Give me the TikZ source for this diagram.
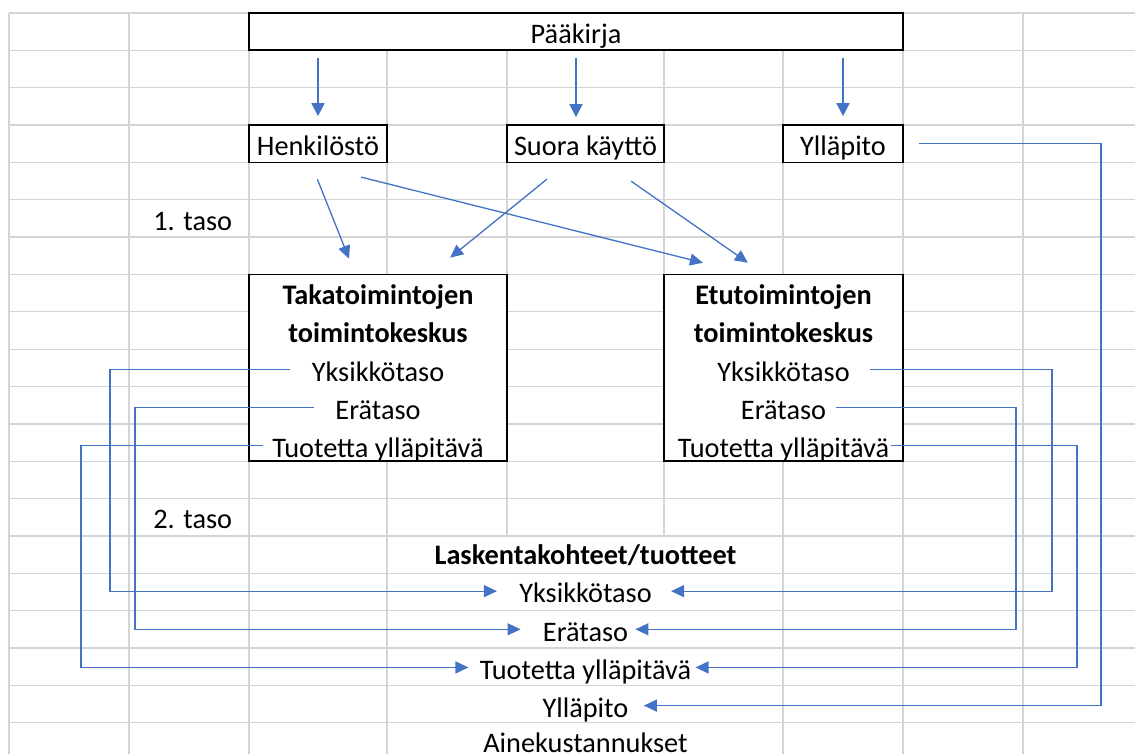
\documentclass[tikz,border=0pt]{standalone}
\usepackage{fontspec}
\setmainfont{Carlito}
\usetikzlibrary{arrows.meta,positioning,calc}
\definecolor{gridgray}{RGB}{212,212,212}
\definecolor{linkblue}{RGB}{68,114,196}

\begin{document}
\begin{tikzpicture}[
  x=0.5pt,y=-0.5pt,
  font=\fontsize{14.15pt}{17pt}\selectfont,
  gridline/.style={draw=gridgray,line width=0.65pt},
  box/.style={draw,line width=0.9pt,fill=white,rectangle,inner sep=0pt,
    minimum height=18.675pt,text height=11.7pt,text depth=0pt},
  cell/.style={inner sep=0pt,minimum height=18.675pt,text height=11.7pt,text depth=0pt},
  link/.style={draw=linkblue,line width=0.8pt,-{Triangle[length=6.5pt,width=6.5pt]}},
  wire/.style={draw=linkblue,line width=0.65pt,-{Triangle[length=6.5pt,width=6pt]}}
  ]

  % Tausta ja ruudukko
  \useasboundingbox[fill=white] (0,0) rectangle (1135,754);
  \foreach \r in {0,...,19}
    \draw[gridline] (9,13+37.35*\r) -- (1135,13+37.35*\r);
  \foreach \c in {9,129,249,387,783,903,1023}
    \draw[gridline] (\c,13) -- (\c,754);
  \foreach \c in {507,664}
    \draw[gridline] (\c,13) -- (\c,535.9);

  % Paakirja ja ylin taso
  \node[box,minimum width=327pt] (pk) at (576,31.68) {Pääkirja};
  \node[box,minimum width=69pt] (hen) at (318,143.73) {Henkilöstö};
  \node[box,minimum width=78.5pt] (sk) at (585.5,143.73) {Suora käyttö};
  \node[box,minimum width=60pt] (yp) at (843,143.73) {Ylläpito};

  \node[cell,anchor=west] (taso1) at (153,218.43) {1. taso};
  \node[cell,anchor=west] (taso2) at (153,517.23) {2. taso};

  % Toimintokeskukset
  \node[box,minimum width=129pt,minimum height=93.375pt] (taka) at (378,367.83) {};
  \node[cell] (tHead) at (378,293.13) {\textbf{Takatoimintojen}};
  \node[cell,below=0pt of tHead] (tSub) {\textbf{toimintokeskus}};
  \node[cell,below=0pt of tSub] (tYks) {Yksikkötaso};
  \node[cell,below=0pt of tYks] (tEra) {Erätaso};
  \node[cell,below=0pt of tEra] (tTuo) {Tuotetta ylläpitävä};

  \node[box,minimum width=119.5pt,minimum height=93.375pt] (etu) at (783.5,367.83) {};
  \node[cell] (eHead) at (783.5,293.13) {\textbf{Etutoimintojen}};
  \node[cell,below=0pt of eHead] (eSub) {\textbf{toimintokeskus}};
  \node[cell,below=0pt of eSub] (eYks) {Yksikkötaso};
  \node[cell,below=0pt of eYks] (eEra) {Erätaso};
  \node[cell,below=0pt of eEra] (eTuo) {Tuotetta ylläpitävä};

  % Laskentakohteet
  \node[cell] (lHead) at (585.5,553) {\textbf{Laskentakohteet/tuotteet}};
  \node[cell,below=0pt of lHead] (lYks) {Yksikkötaso};
  \node[cell,below=0pt of lYks] (lEra) {Erätaso};
  \node[cell,below=0pt of lEra] (lTuo) {Tuotetta ylläpitävä};
  \node[cell,below=0pt of lTuo] (lYp) {Ylläpito};
  \node[cell,below=0pt of lYp,yshift=1.5pt] (lAine) {Ainekustannukset};

  % Kulmapisteet
  \coordinate (kTY) at (110,0);
  \coordinate (kTE) at (135,0);
  \coordinate (kTT) at (81,0);
  \coordinate (kEY) at (1052,0);
  \coordinate (kEE) at (1016,0);
  \coordinate (kET) at (1077,0);
  \coordinate (kYP) at (1101,0);

  % Nuolet ylhaalta
  \draw[link,shorten <=3.3pt,shorten >=4pt] (pk.south -| hen.north) -- (hen.north);
  \draw[link,shorten <=3.3pt,shorten >=3.5pt] (pk.south) -- (pk.south |- sk.north);
  \draw[link,shorten <=3.3pt,shorten >=4pt] (pk.south -| yp.north) -- (yp.north);

  \draw[wire,shorten <=8.6pt,shorten >=8pt] ([xshift=-3.5pt]hen.south) -- ([xshift=-11.5pt]taka.north);
  \draw[wire,shorten <=28.4pt,shorten >=22.2pt] ([xshift=-6pt]hen.south) -- ([xshift=-18.75pt]etu.north);
  \draw[wire,shorten <=12.6pt,shorten >=12.6pt] ([xshift=-9.5pt]sk.south) -- ([xshift=26.3pt]taka.north);
  \draw[wire,shorten <=15.6pt,shorten >=9.5pt] ([xshift=10pt]sk.south) -- ([xshift=-10pt]etu.north);

  % Kohdistukset laskentakohteille
  \draw[wire,shorten <=10.5pt,shorten >=11pt] (tYks.west) -- (tYks.west -| kTY) |- (lYks.west);
  \draw[wire,shorten <=10.5pt,shorten >=11pt] (tEra.west) -- (tEra.west -| kTE) |- (lEra.west);
  \draw[wire,shorten <=4.5pt,shorten >=5.5pt] (tTuo.west) -- (tTuo.west -| kTT) |- (lTuo.west);

  \draw[wire,shorten <=10pt,shorten >=9.5pt] (eYks.east) -- (eYks.east -| kEY) |- (lYks.east);
  \draw[wire,shorten <=5pt,shorten >=3.5pt] (eEra.east) -- (eEra.east -| kEE) |- (lEra.east);
  \draw[wire,shorten <=0.5pt,shorten >=2pt] (eTuo.east) -- (eTuo.east -| kET) |- (lTuo.east);

  \draw[wire,shorten <=7.5pt,shorten >=7.5pt] (yp.east) -- (yp.east -| kYP) |- (lYp.east);

\end{tikzpicture}
\end{document}
